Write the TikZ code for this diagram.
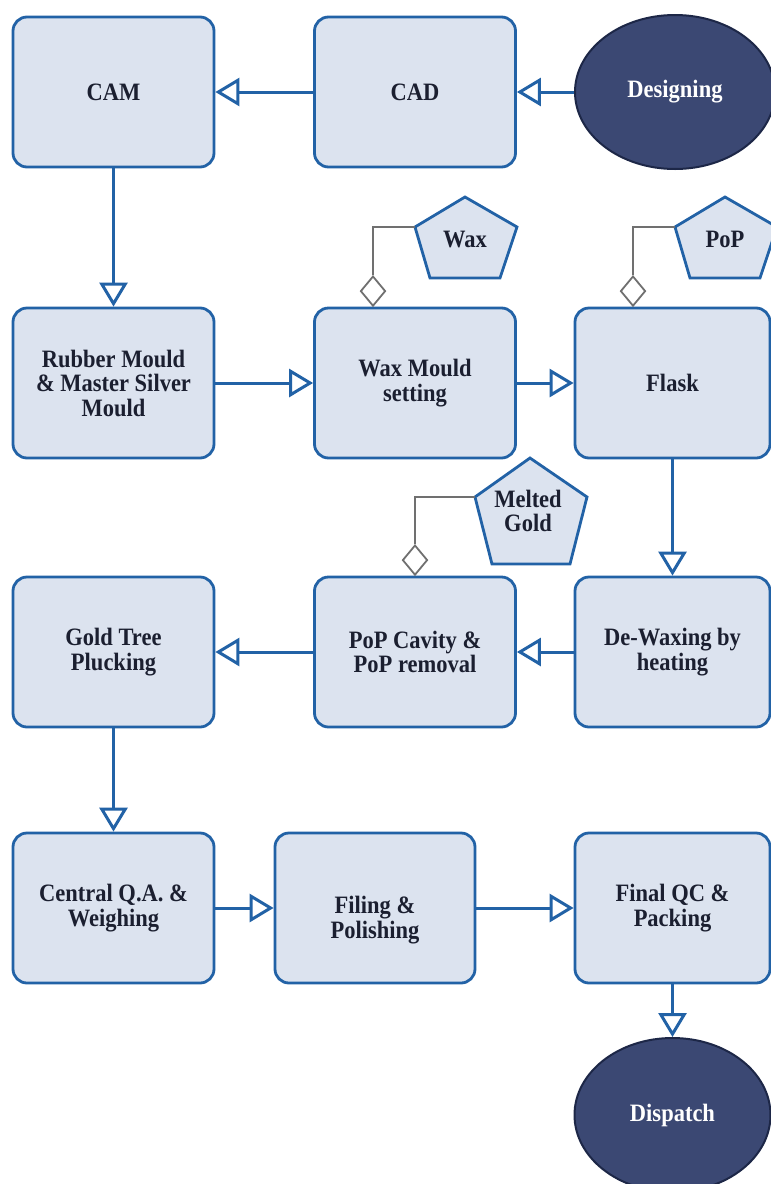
\documentclass[tikz,border=0pt]{standalone}
\usepackage{fontspec}
\setmainfont{Liberation Serif}
\newfontfamily\lbfont[FakeStretch=0.9]{Liberation Serif}
\usetikzlibrary{arrows.meta,shapes.geometric}
\definecolor{boxfill}{HTML}{DCE3EF}
\definecolor{boxline}{HTML}{2262A6}
\definecolor{navy}{HTML}{3B4873}
\definecolor{navyline}{HTML}{1D2747}
\definecolor{txt}{HTML}{1B1F30}
\definecolor{gline}{HTML}{707070}
\begin{document}
\begin{tikzpicture}[x=1pt,y=-1pt,
  lbl/.style={align=center, font=\lbfont\fontsize{25}{24.5}\selectfont\bfseries, text=txt, inner sep=0pt},
  proc/.style={lbl, draw=boxline, line width=2.8pt, fill=boxfill, rounded corners=14pt,
    minimum width=201pt, minimum height=150pt},
  term/.style={ellipse, draw=navyline, line width=2pt, fill=navy, minimum width=200pt,
    minimum height=154pt, inner sep=0pt, font=\lbfont\fontsize{25}{24.5}\selectfont\bfseries, text=white},
  flow/.style={draw=boxline, line width=3pt, -{Triangle[open, length=24pt, width=28pt]}},
  link/.style={draw=gline, line width=2.2pt},
  dia/.style={diamond, draw=gline, line width=1.8pt, fill=white, minimum width=25pt,
    minimum height=30pt, inner sep=0pt, anchor=south},
  pent/.style={draw=boxline, line width=2.8pt, fill=boxfill, line join=miter}
]
\clip (0,0) rectangle (771,1184);
\fill[white] (0,0) rectangle (771,1184);

% row 1
\node[proc] (cam) at (113.5,92) {CAM};
\node[proc] (cad) at (415,92) {CAD};
\node[term] (des) at (675,92) {Designing};

% row 2
\node[proc] (rubber) at (113.5,383) {Rubber Mould\\\& Master Silver\\Mould};
\node[proc] (waxm) at (415,383) {Wax Mould\\setting};
\node[proc, minimum width=195pt] (flask) at (672.5,383) {Flask};

% row 3
\node[proc] (gold) at (113.5,652) {Gold Tree\\Plucking};
\node[proc] (popc) at (415,652) {PoP Cavity \&\\PoP removal};
\node[proc, minimum width=195pt] (dewax) at (672.5,652) {De-Waxing by\\heating};

% row 4
\node[proc] (cqa) at (113.5,908) {Central Q.A. \&\\Weighing};
\node[proc, minimum width=200pt] (filing) at (375,908) {};
\node[lbl] (filingtxt) at ([yshift=-12pt]filing.center) {Filing \&\\Polishing};
\node[proc, minimum width=195pt] (finalqc) at (672.5,908) {Final QC \&\\Packing};
\node[term, minimum width=196pt] (dispatch) at (672.5,1115) {Dispatch};

% pentagons (materials)
\draw[pent] (465,197) -- (517,227) -- (500,278) -- (430,278) -- (415,227) -- cycle;
\node[lbl] (wax) at (465,239) {Wax};
\coordinate (waxL) at (415,227);
\node[dia] (d1) at (373,307) {};
\draw[link] (d1.north) |- (waxL);

\draw[pent] (725,197) -- (777,227) -- (760,278) -- (690,278) -- (675,227) -- cycle;
\node[lbl] (pop) at (725,239) {PoP};
\coordinate (popL) at (675,227);
\node[dia] (d2) at (633,307) {};
\draw[link] (d2.north) |- (popL);

\draw[pent] (530,458) -- (587,497) -- (570,564) -- (492,564) -- (475,497) -- cycle;
\node[lbl] (mgold) at (528,511) {Melted\\Gold};
\coordinate (mgoldL) at (475,497);
\node[dia] (d3) at (415,576) {};
\draw[link] (d3.north) |- (mgoldL);

% flow arrows
\draw[flow] (des) -- (cad);
\draw[flow] (cad) -- (cam);
\draw[flow] (cam) -- (rubber);
\draw[flow] (rubber) -- (waxm);
\draw[flow] (waxm) -- (flask);
\draw[flow] (flask) -- (dewax);
\draw[flow] (dewax) -- (popc);
\draw[flow] (popc) -- (gold);
\draw[flow] (gold) -- (cqa);
\draw[flow] (cqa) -- (filing);
\draw[flow] (filing) -- (finalqc);
\draw[flow] (finalqc) -- (dispatch);
\end{tikzpicture}
\end{document}
